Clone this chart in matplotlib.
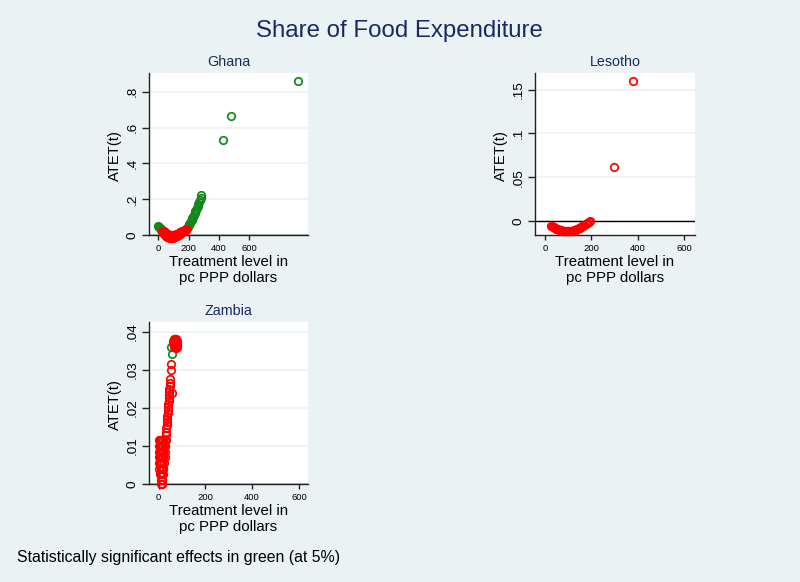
import matplotlib
matplotlib.use('Agg')
import matplotlib.pyplot as plt

plt.rcParams['font.family'] = ['Liberation Sans', 'DejaVu Sans']

# ---------------- texts ----------------
title = "Share of Food Expenditure"
note = "Statistically significant effects in green (at 5%)"
xlabel = "Treatment level in\npc PPP dollars"
ylabel = "ATET(t)"
countries = ["Ghana", "Lesotho", "Zambia"]

# ---------------- Ghana ----------------
ghana_sig_x = [0, 4, 8, 12, 16, 20, 24,
               190, 195, 200, 205, 210, 215, 220, 225, 230, 235, 240, 245, 250,
               255, 260, 265, 270, 275, 280, 285, 425, 480, 925]
ghana_sig_y = [.050, .046, .042, .038, .034, .030, .026,
               .040, .047, .054, .061, .069, .077, .085, .094, .103, .112, .122, .132, .142,
               .152, .163, .174, .185, .197, .209, .221, .532, .665, .860]
ghana_ns_x = [28, 32, 36, 40, 45, 50, 55, 60, 65, 70, 75, 80, 85, 90, 95, 100, 105, 110,
              115, 120, 125, 130, 135, 140, 145, 150, 155, 160, 165, 170, 175, 180, 185,
              36, 45, 55, 65, 75, 85, 95, 105, 115, 125, 135, 145, 155, 165, 175, 185]
ghana_ns_y = [.020, .014, .009, .005, .001, -.003, -.006, -.009, -.011, -.013, -.014, -.015,
              -.015, -.015, -.014, -.013, -.012, -.010, -.008, -.006, -.004, -.001, .002,
              .005, .008, .011, .014, .017, .020, .023, .026, .029, .032,
              .022, .014, .008, .004, .002, .001, .001, .002, .004, .007, .011, .015, .020,
              .025, .030, .036]
ghana_yticks = [0, .2, .4, .6, .8]
ghana_yticklabels = ["0", ".2", ".4", ".6", ".8"]

# ---------------- Lesotho ----------------
lesotho_sig_x = []
lesotho_sig_y = []
lesotho_ns_x = [28, 32, 36, 40, 44, 48, 52, 56, 60, 64, 68, 72, 76, 80, 84, 88, 92, 96,
                100, 104, 108, 112, 116, 120, 124, 128, 132, 136, 140, 145, 150, 155, 160,
                165, 170, 176, 182, 188, 194, 296, 378]
lesotho_ns_y = [-.0055, -.0062, -.0068, -.0074, -.0080, -.0086, -.0091, -.0096, -.0100,
                -.0104, -.0108, -.0111, -.0114, -.0116, -.0118, -.0119, -.0120, -.0120,
                -.0120, -.0119, -.0118, -.0116, -.0114, -.0111, -.0108, -.0104, -.0100,
                -.0095, -.0090, -.0083, -.0076, -.0069, -.0062, -.0055, -.0048, -.0038,
                -.0026, -.0014, -.0002, .062, .160]
lesotho_yticks = [0, .05, .1, .15]
lesotho_yticklabels = ["0", ".05", ".1", ".15"]

# ---------------- Zambia ----------------
zambia_sig_x = [53, 56]
zambia_sig_y = [.0360, .0342]
zambia_ns_x = [0, 5, 10, 15, 20, 25, 30,
               0, 5, 10, 15, 20, 25, 28,
               0, 5, 10, 15, 20, 26,
               0, 5, 10, 15, 20, 25,
               1, 6, 11, 16, 22,
               3, 8, 13, 18, 20,
               6, 10, 14, 18,
               8, 12, 16,
               10, 14,
               31, 32, 33, 34, 35, 36, 37, 38, 39, 40, 41, 42, 43, 44, 45, 46, 47, 48, 49,
               53, 53, 57,
               61, 63, 65, 67, 69, 71, 73, 75, 77, 79, 78, 76, 74, 72, 70, 68, 66, 64,
               66, 70, 73, 77, 75]
zambia_ns_y = [.0115, .0115, .0115, .0115, .0115, .0115, .0115,
               .0100, .0100, .0100, .0100, .0100, .0100, .0100,
               .0085, .0085, .0085, .0085, .0085, .0085,
               .0070, .0070, .0070, .0070, .0070, .0070,
               .0055, .0055, .0055, .0055, .0055,
               .0040, .0040, .0040, .0040, .0040,
               .0025, .0025, .0025, .0025,
               .0010, .0010, .0010,
               .0000, .0000,
               .0130, .0138, .0146, .0154, .0162, .0170, .0178, .0186, .0194, .0202,
               .0210, .0218, .0226, .0234, .0242, .0250, .0258, .0266, .0276,
               .0300, .0315, .0239,
               .0372, .0376, .0379, .0381, .0382, .0382, .0381, .0379, .0376, .0370,
               .0364, .0362, .0360, .0360, .0362, .0366, .0370, .0366,
               .0360, .0372, .0370, .0360, .0358]
zambia_yticks = [0, .01, .02, .03, .04]
zambia_yticklabels = ["0", ".01", ".02", ".03", ".04"]

xticks = [0, 200, 400, 600]
xticklabels = ["0", "200", "400", "600"]

# ---------------- styling ----------------
bg = '#EAF2F3'
navy = '#1A2A5E'
green = '#12881A'
red = '#FF0000'
axcol = '#222222'

W, H = 800, 582
fig = plt.figure(figsize=(8, 5.82), dpi=100, facecolor=bg)


def px_axes(l, t, r, b):
    return fig.add_axes([l / W, 1 - b / H, (r - l) / W, (b - t) / H])


panels = [
    (countries[0], (149, 73, 308, 235), (-61, 988), (0, .905),
     ghana_sig_x, ghana_sig_y, ghana_ns_x, ghana_ns_y, ghana_yticks, ghana_yticklabels),
    (countries[1], (535, 73, 695, 235), (-43, 647), (-.016, .169),
     lesotho_sig_x, lesotho_sig_y, lesotho_ns_x, lesotho_ns_y, lesotho_yticks, lesotho_yticklabels),
    (countries[2], (149, 322, 308, 484), (-41.5, 639), (0, .0426),
     zambia_sig_x, zambia_sig_y, zambia_ns_x, zambia_ns_y, zambia_yticks, zambia_yticklabels),
]

for name, box, xl, yl, sx, sy, nx, ny, yt, ytl in panels:
    ax = px_axes(*box)
    ax.set_facecolor('white')
    ax.set_xlim(*xl)
    ax.set_ylim(*yl)
    ax.set_yticks(yt)
    ax.set_yticklabels(ytl)
    ax.set_xticks(xticks)
    ax.set_xticklabels(xticklabels)
    ax.yaxis.grid(True, color=bg, lw=1.2)
    ax.set_axisbelow(True)
    for s in ['top', 'right']:
        ax.spines[s].set_visible(False)
    for s in ['left', 'bottom']:
        ax.spines[s].set_color(axcol)
        ax.spines[s].set_linewidth(1.0)
    ax.tick_params(axis='y', length=4.7, width=1.0, color=axcol, pad=2.5,
                   labelsize=9.7, labelrotation=90)
    ax.tick_params(axis='x', length=3.6, width=1.0, color=axcol, pad=3,
                   labelsize=6.8)
    for lab in ax.get_yticklabels():
        lab.set_va('center')
    ax.axhline(0, color='black', lw=1.0, zorder=2)
    if sx:
        ax.plot(sx, sy, 'o', ls='none', mfc='none', mec=green, ms=5.4, mew=1.25,
                clip_on=False, zorder=3)
    ax.plot(nx, ny, 'o', ls='none', mfc='none', mec=red, ms=5.4, mew=1.25,
            clip_on=False, zorder=3)
    ax.set_title(name, fontsize=10.3, color=navy, pad=5)
    ax.set_ylabel(ylabel, fontsize=10.6)
    ax.yaxis.set_label_coords(-34 / 159, 0.49)
    ax.yaxis.label.set_va('center')
    ax.set_xlabel(xlabel, fontsize=10.8, linespacing=1.15)
    ax.xaxis.set_label_coords(0.5, -0.125)

fig.text(399 / W, 1 - 36.7 / H, title, ha='center', va='baseline',
         fontsize=17.3, color=navy)
fig.text(17.3 / W, 1 - 561.7 / H, note, ha='left', va='baseline',
         fontsize=11.4, color='black')

fig.savefig('out.png', dpi=100, facecolor=bg)
